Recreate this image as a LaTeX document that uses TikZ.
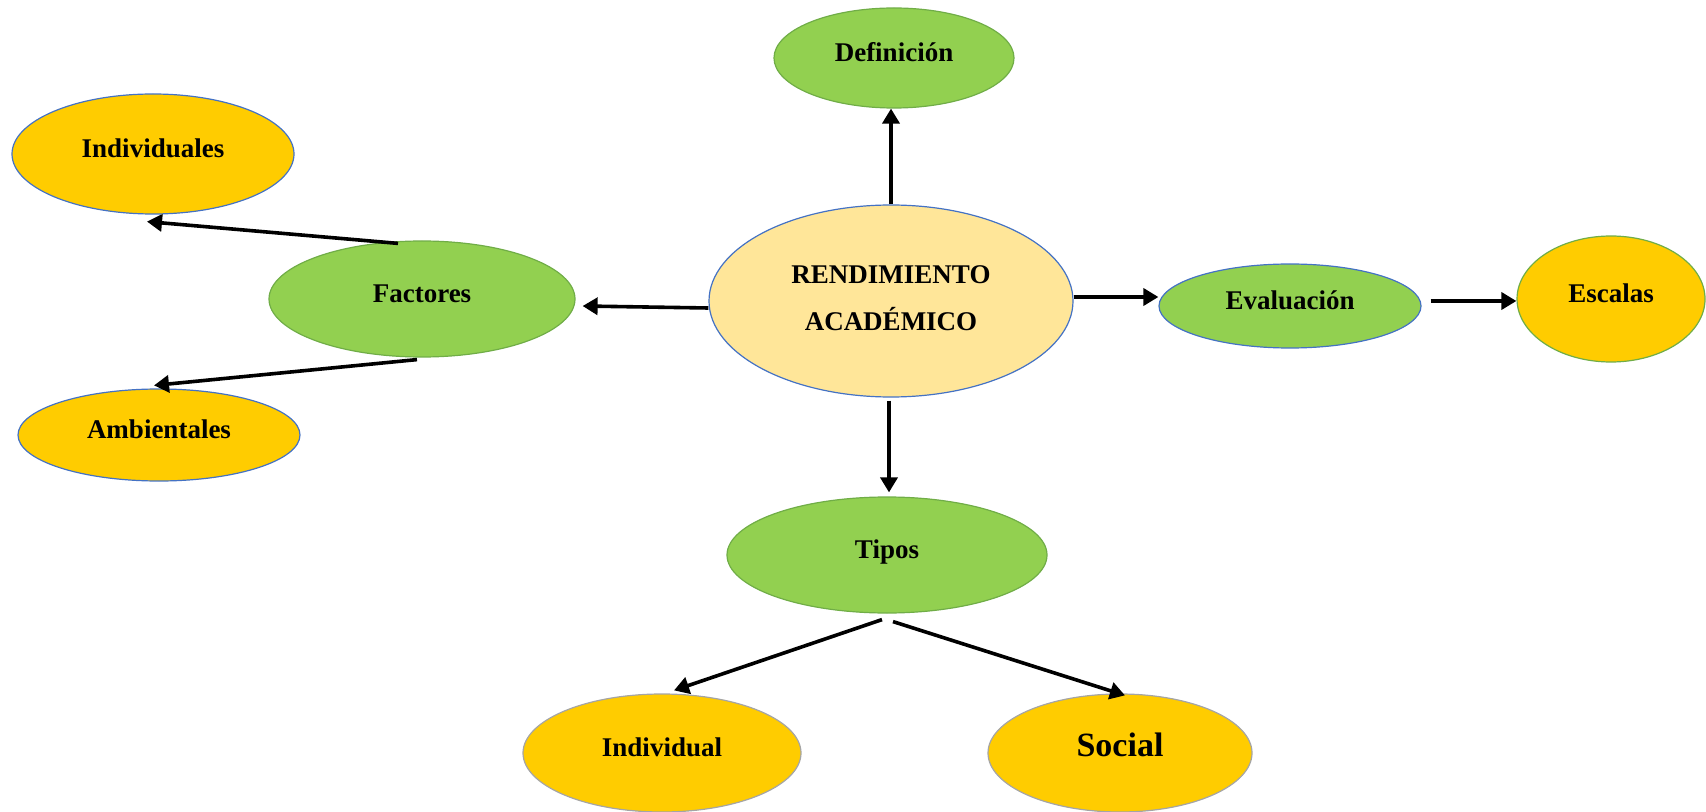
\documentclass[tikz,border=0pt]{standalone}
\usepackage{fontspec}
\setmainfont{Liberation Serif}
\usetikzlibrary{shapes.geometric,arrows.meta}
\definecolor{gfill}{HTML}{92D050}
\definecolor{gdraw}{HTML}{70AD47}
\definecolor{yfill}{HTML}{FFCC00}
\definecolor{lyfill}{HTML}{FFE699}
\definecolor{bdraw}{HTML}{4472C4}
\definecolor{grdraw}{HTML}{A5A5A5}
\tikzset{
  bubble/.style={ellipse, inner sep=0pt, line width=0.6pt,
     font=\fontsize{13.5}{16}\selectfont\bfseries, text height=9pt, text depth=5.5pt},
  greenb/.style={bubble, fill=gfill, draw=gdraw},
  yellowb/.style={bubble, fill=yfill, draw=#1},
  conn/.style={line width=1.8pt, -{Triangle[length=7.5pt,width=8.5pt]}}
}
\begin{document}
\begin{tikzpicture}[x=0.5pt,y=-0.5pt]
\useasboundingbox (0,0) rectangle (1706,812);
% nodes
\node[greenb, minimum width=120pt, minimum height=50pt] (def) at (894,58) {Definición};
\node[yellowb=bdraw, minimum width=141pt, minimum height=60pt] (indiv) at (153,154) {Individuales};
\node[greenb, minimum width=153pt, minimum height=58pt] (fac) at (422,299) {Factores};
\node[yellowb=bdraw, minimum width=141pt, minimum height=46pt] (amb) at (159,435) {Ambientales};
\node[ellipse, inner sep=0pt, line width=0.6pt, fill=lyfill, draw=bdraw,
      minimum width=182pt, minimum height=96pt, align=center,
      font=\fontsize{13.5}{23.5}\selectfont\bfseries] (rend) at (891,301)
      {\raisebox{2.5pt}{RENDIMIENTO}\\\raisebox{2.5pt}{ACADÉMICO}};
\node[greenb, draw=bdraw, minimum width=131pt, minimum height=42pt] (eval) at (1290,306) {Evaluación};
\node[yellowb=gdraw, minimum width=94pt, minimum height=63pt] (esc) at (1611,299) {Escalas};
\node[greenb, minimum width=160pt, minimum height=58pt] (tipos) at (887,555) {Tipos};
\node[yellowb=grdraw, minimum width=139pt, minimum height=59pt] (ind) at (662,753) {Individual};
\node[yellowb=grdraw, minimum width=132pt, minimum height=59pt,
      font=\fontsize{17}{20}\selectfont\bfseries] (soc) at (1120,753) {Social};
% helper coordinates
\coordinate (evs) at ([xshift=4.5pt,yshift=2.5pt]eval.east);
\coordinate (rds) at ([xshift=-1pt,yshift=-1.5pt]rend.south);
% connectors
\draw[conn] (rend.north) -- (rend.north |- def.south);
\draw[conn] ([yshift=-3.5pt]rend.west) -- ([xshift=3.5pt,yshift=-3.5pt]fac.east);
\draw[conn] ([xshift=-12pt,yshift=-1.5pt]fac.north) -- ([xshift=-3pt,yshift=-3.5pt]indiv.south);
\draw[conn] ([xshift=-2.5pt,yshift=-1pt]fac.south) -- ([xshift=-2.5pt,yshift=1.5pt]amb.north);
\draw[conn] ([yshift=2pt]rend.east) -- ([yshift=4.5pt]eval.west);
\draw[conn] (evs) -- (evs -| esc.west);
\draw[conn] (rds) -- ([yshift=2pt]rds |- tipos.north);
\draw[conn] ([xshift=-2.5pt,yshift=-3pt]tipos.south) -- ([xshift=6pt,yshift=1.5pt]ind.north);
\draw[conn] ([xshift=3pt,yshift=-4pt]tipos.south) -- ([xshift=2.5pt,yshift=-1pt]soc.north);
\end{tikzpicture}
\end{document}
